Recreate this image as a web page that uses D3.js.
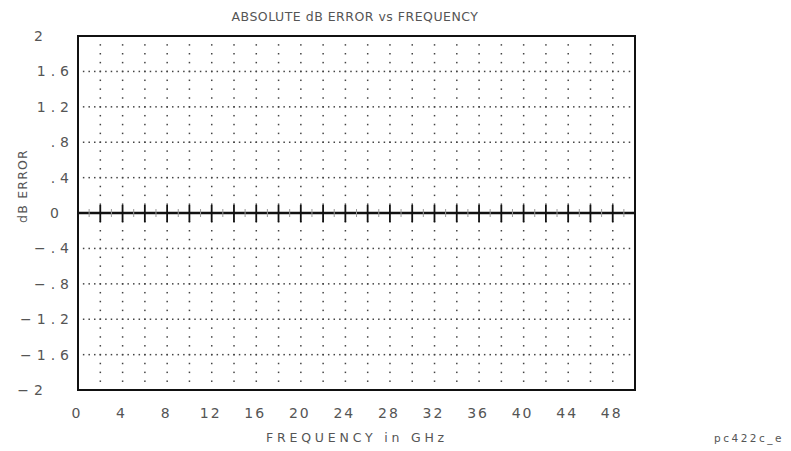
<!DOCTYPE html>
<html>
<head>
<meta charset="utf-8">
<script src="https://cdn.jsdelivr.net/npm/d3@7"></script>
<style>
  html, body { margin: 0; padding: 0; background: #fff; }
  text { font-family: "DejaVu Sans", sans-serif; fill: #555; }
</style>
</head>
<body>
<div id="chart"></div>
<script>
  const title = 'ABSOLUTE dB ERROR vs FREQUENCY';
  const xTitle = 'FREQUENCY in GHz';
  const yTitle = 'dB ERROR';
  const figId = 'pc422c_e';

  // frequency points (GHz) and measured absolute error (dB)
  const freqs = [0, 2, 4, 6, 8, 10, 12, 14, 16, 18, 20, 22, 24, 26, 28, 30, 32, 34, 36, 38, 40, 42, 44, 46, 48, 50];
  const errors = [0, 0, 0, 0, 0, 0, 0, 0, 0, 0, 0, 0, 0, 0, 0, 0, 0, 0, 0, 0, 0, 0, 0, 0, 0, 0];

  const xTicks = [0, 4, 8, 12, 16, 20, 24, 28, 32, 36, 40, 44, 48];
  const yTicks = [2, 1.6, 1.2, 0.8, 0.4, 0, -0.4, -0.8, -1.2, -1.6, -2];
  const yTickLabels = ['2', '1.6', '1.2', '.8', '.4', '0', '\u2212.4', '\u2212.8', '\u22121.2', '\u22121.6', '\u22122'];

  const W = 791, H = 451;
  const margin = { top: 36, right: 156, bottom: 61, left: 78 };

  const svg = d3.select('#chart').append('svg')
    .attr('width', W).attr('height', H);

  const x = d3.scaleLinear().domain([0, 50]).range([margin.left, W - margin.right]);
  const y = d3.scaleLinear().domain([-2, 2]).range([H - margin.bottom, margin.top]);

  // vertical dotted grid: every 2 GHz, dots every 0.1 dB
  const vLines = d3.range(2, 50, 2);
  const vDots = d3.range(-19, 20).map(d => d / 10);
  const grid = svg.append('g');
  vLines.forEach(f => {
    grid.selectAll(null).data(vDots).enter().append('rect')
      .attr('x', x(f) - 0.7).attr('y', d => y(d) - 0.7)
      .attr('width', 1.5).attr('height', 1.5)
      .attr('fill', '#444');
  });

  // horizontal dotted grid: every 0.4 dB, dots every 0.5 GHz
  const hLines = [1.6, 1.2, 0.8, 0.4, -0.4, -0.8, -1.2, -1.6];
  const hDots = d3.range(1, 100).map(d => d / 2);
  hLines.forEach(v => {
    grid.selectAll(null).data(hDots).enter().append('rect')
      .attr('x', d => x(d) - 0.7).attr('y', y(v) - 0.7)
      .attr('width', 1.5).attr('height', 1.5)
      .attr('fill', '#444');
  });

  // data trace
  const line = d3.line().x((d, i) => x(freqs[i])).y(d => y(d));
  svg.append('path')
    .datum(errors)
    .attr('d', line)
    .attr('fill', 'none')
    .attr('stroke', '#111')
    .attr('stroke-width', 2.5);

  // ticks on the trace
  svg.append('g').selectAll('line')
    .data(d3.range(1, 50, 2))
    .enter().append('line')
    .attr('x1', d => x(d)).attr('x2', d => x(d))
    .attr('y1', y(0) - 4).attr('y2', y(0) + 4)
    .attr('stroke', '#999').attr('stroke-width', 1);
  svg.append('g').selectAll('line')
    .data(vLines)
    .enter().append('line')
    .attr('x1', d => x(d)).attr('x2', d => x(d))
    .attr('y1', y(0) - 8).attr('y2', y(0) + 9)
    .attr('stroke', '#111').attr('stroke-width', 1.8);

  // frame
  svg.append('rect')
    .attr('x', x(0)).attr('y', y(2))
    .attr('width', x(50) - x(0)).attr('height', y(-2) - y(2))
    .attr('fill', 'none').attr('stroke', '#111').attr('stroke-width', 2);

  // x tick labels
  svg.append('g').selectAll('text')
    .data(xTicks)
    .enter().append('text')
    .attr('x', d => x(d) - 1)
    .attr('y', 418)
    .attr('text-anchor', 'middle')
    .attr('font-size', 14)
    .attr('letter-spacing', 2)
    .text(d => d);

  // y tick labels (plotter style alignment)
  const labelX = v => v === 0 ? 64 : (Math.abs(v) === 2 ? 48 : 74);
  svg.append('g').selectAll('text')
    .data(yTicks)
    .enter().append('text')
    .attr('x', d => labelX(d))
    .attr('y', d => y(d) + 5)
    .attr('text-anchor', 'end')
    .attr('font-size', 14)
    .attr('letter-spacing', 5)
    .text((d, i) => yTickLabels[i]);

  svg.append('text')
    .attr('x', 355).attr('y', 21)
    .attr('text-anchor', 'middle')
    .attr('font-size', 12.5)
    .attr('letter-spacing', 0.5)
    .text(title);

  svg.append('text')
    .attr('x', 357).attr('y', 442)
    .attr('text-anchor', 'middle')
    .attr('font-size', 12.5)
    .attr('letter-spacing', 3.8)
    .text(xTitle);

  svg.append('text')
    .attr('transform', 'translate(27,186) rotate(-90)')
    .attr('text-anchor', 'middle')
    .attr('font-size', 12.5)
    .attr('letter-spacing', 1.2)
    .text(yTitle);

  svg.append('text')
    .attr('x', 749).attr('y', 442)
    .attr('text-anchor', 'middle')
    .attr('font-size', 10.5)
    .attr('letter-spacing', 2.5)
    .text(figId);
</script>
</body>
</html>
